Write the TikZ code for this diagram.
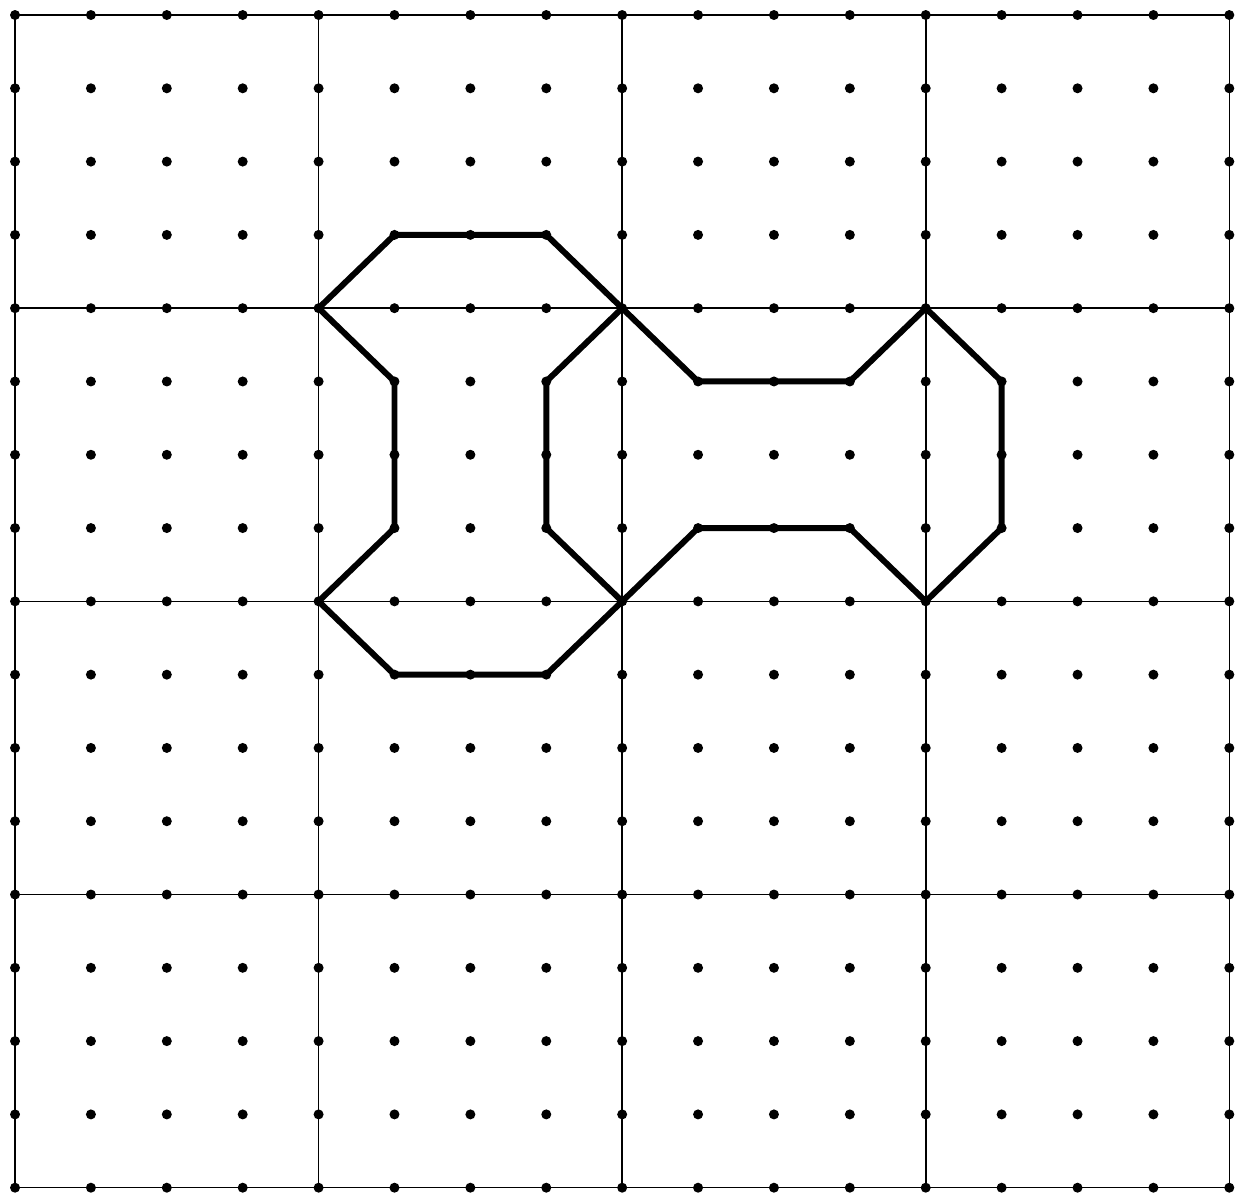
\documentclass[tikz,border=0pt]{standalone}
\usetikzlibrary{calc}
\tikzset{
  gridline/.style={draw=black, line width=0.9pt},
  bone/.style={draw=black, line width=3.4pt, line join=round},
  dot/.style={fill=black},
}
\begin{document}
\begin{tikzpicture}[x=1.518cm, y=1.466cm]
  \useasboundingbox (-0.198,-0.164) rectangle (16.22,16.205);
  % big squares
  \foreach \k in {0,4,...,16} {
    \draw[gridline] (\k,0) -- (\k,16);
    \draw[gridline] (0,\k) -- (16,\k);
  }
  % dots
  \foreach \i in {0,...,16}
    \foreach \j in {0,...,16}
      \fill[dot] (\i,\j) circle[radius=0.1cm];
  % vertical bone
  \draw[bone] (4,12) -- (5,13) -- (7,13) -- (8,12) -- (7,11) -- (7,9) -- (8,8)
    -- (7,7) -- (5,7) -- (4,8) -- (5,9) -- (5,11) -- cycle;
  % horizontal bone
  \draw[bone] (8,12) -- (9,11) -- (11,11) -- (12,12) -- (13,11) -- (13,9)
    -- (12,8) -- (11,9) -- (9,9) -- (8,8);
\end{tikzpicture}
\end{document}
